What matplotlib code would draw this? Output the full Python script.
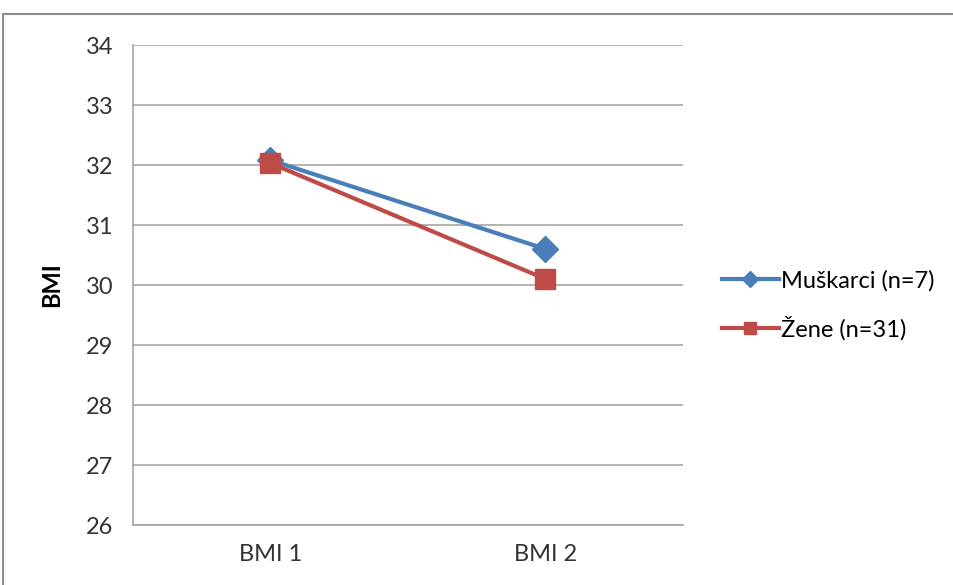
import matplotlib.pyplot as plt
from matplotlib.patches import Rectangle

# data
categories = ["BMI 1", "BMI 2"]
muskarci = [32.08, 30.6]
zene = [32.03, 30.1]
labels = ["Muškarci (n=7)", "Žene (n=31)"]

plt.rcParams['font.family'] = ['Lato', 'DejaVu Sans']

fig = plt.figure(figsize=(9.54, 5.85), dpi=100)
ax = fig.add_axes([133 / 954, 60 / 585, 550 / 954, 480 / 585])

x = range(len(categories))
ax.plot(x, muskarci, color='#4A7EBB', lw=3, marker='D', ms=13,
        label=labels[0], zorder=3)
ax.plot(x, zene, color='#BE4B48', lw=3, marker='s', ms=15,
        label=labels[1], zorder=4)

ax.set_xlim(-0.5, 1.5)
ax.set_ylim(26, 34)
ax.set_yticks(range(26, 35))
ax.set_xticks(list(x))
ax.set_xticklabels(categories)
ax.tick_params(length=0, labelsize=17, colors='#333333', pad=14)
ax.tick_params(axis='x', labelsize=17, pad=14)
ax.grid(axis='y', color='#A6A6A6', lw=1.2)
ax.set_axisbelow(True)
for s in ['top', 'right']:
    ax.spines[s].set_visible(False)
for s in ['left', 'bottom']:
    ax.spines[s].set_color('#A6A6A6')
    ax.spines[s].set_linewidth(1.2)
ax.set_ylabel("BMI", fontsize=17, fontweight='bold', labelpad=16)

fig.legend(loc='center left', bbox_to_anchor=(722 / 954, 1 - 305 / 585),
           frameon=False, fontsize=17, handlelength=2.4, handletextpad=0.1,
           labelspacing=1.05, markerscale=0.62, borderpad=0, borderaxespad=0)

# outer chart frame
fig.patches.append(Rectangle((3 / 954, -0.05), 1.0, 1 - 14 / 585 + 0.05,
                             transform=fig.transFigure, fill=False,
                             edgecolor='#8C8C8C', lw=1.5))

plt.savefig("out.png", dpi=100)
plt.close()
